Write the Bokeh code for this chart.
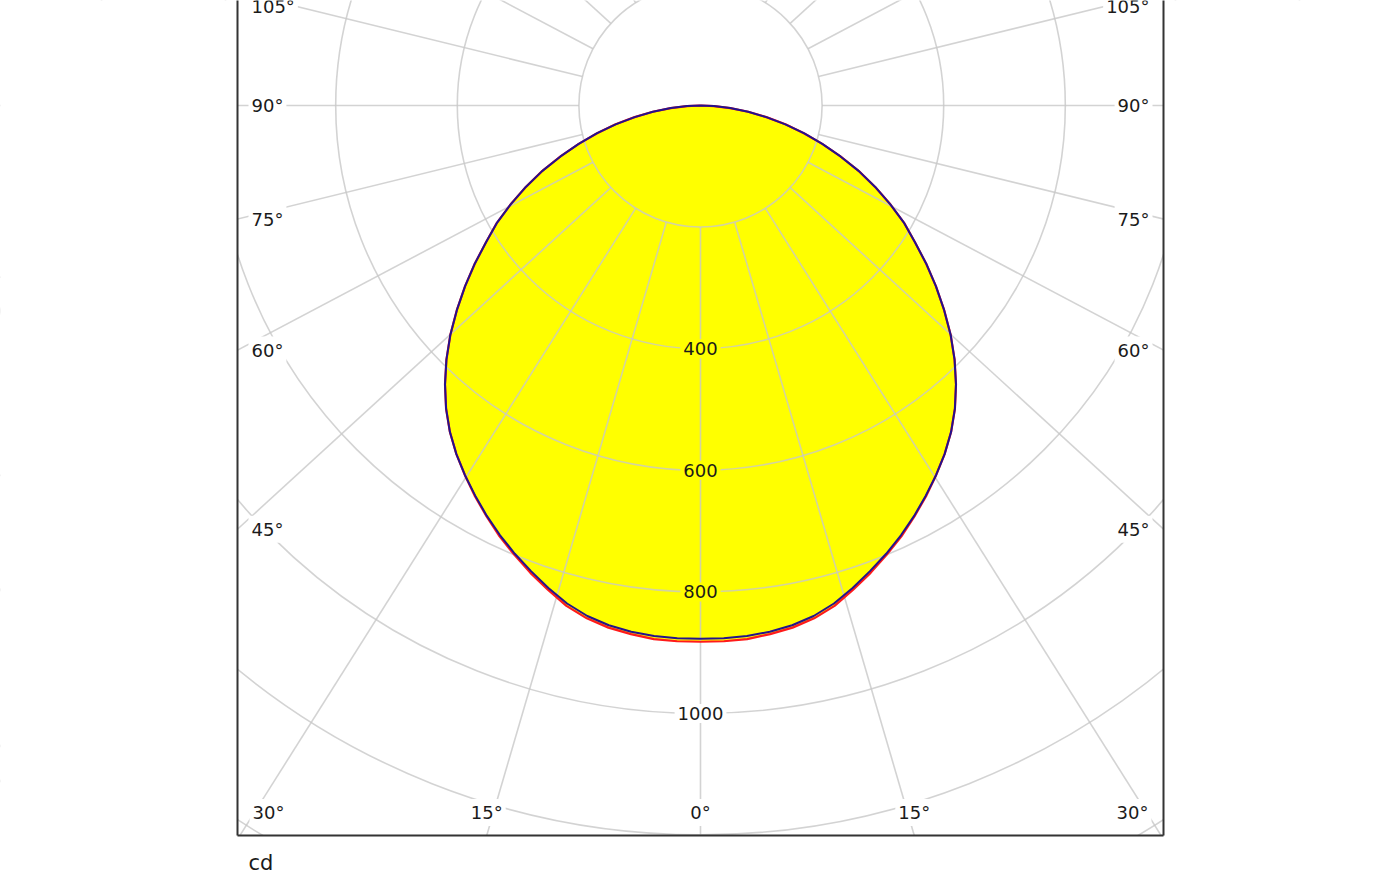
import numpy as np
from bokeh.plotting import figure
from bokeh.models import Range1d
from bokeh.core.properties import value
from bokeh.embed import file_html
from bokeh.resources import INLINE

# ---------------- data ----------------
angles = [0, 2.5, 5, 7.5, 10, 12.5, 15, 17.5, 20, 22.5, 25, 27.5, 30, 32.5, 35,
          37.5, 40, 42.5, 45, 47.5, 50, 52.5, 55, 57.5, 60, 62.5, 65, 67.5, 70,
          72.5, 75, 77.5, 80, 82.5, 85, 87.5, 90]
c0_c180 = [882, 882, 881, 877, 872, 864, 852, 835, 818, 800, 782, 762, 742, 721, 700,
           677, 651, 622, 591, 558, 523, 488, 453, 418, 387, 352, 317, 282, 245,
           210, 176, 143, 110, 79, 49, 22, 0]
c90_c270 = [877, 877, 876, 873, 868, 860, 848, 832, 815, 798, 780, 761, 741, 721, 700,
            677, 651, 622, 591, 558, 523, 488, 453, 418, 387, 352, 317, 282, 245,
            210, 176, 143, 110, 79, 49, 22, 0]
ring_values = [200, 400, 600, 800, 1000, 1200, 1400, 1600, 1800, 2000]
ring_labels = [400, 600, 800, 1000]
grid_angles = [0, 15, 30, 45, 60, 75, 90, 105, 120, 135, 150, 165, 180]
angle_labels = [0, 15, 30, 45, 60, 75, 90, 105]
unit_label = "cd"

# ---------------- layout ----------------
W, H = 1400, 875
S = 0.608            # pixels per cd
CX, CY = 700, 105    # pole position inside the canvas (px)
XF = 463 / S         # half width of the frame (cd units)
YB = 730 / S         # depth of the frame bottom below the pole
K = 0.915            # vertical squeeze of the angular grid
FONT = value("DejaVu Sans")
GRID = "#c8c8c8"

p = figure(width=W, height=H, output_backend="svg", toolbar_location=None,
           x_range=Range1d(-CX / S, (W - CX) / S),
           y_range=Range1d(-(H - CY) / S, CY / S),
           min_border=0, outline_line_color=None)
p.axis.visible = False
p.grid.visible = False
p.background_fill_color = "white"


def outline(vals):
    th = np.radians(angles)
    I = np.array(vals, float)
    xr, yr = I * np.sin(th), -I * np.cos(th)
    xs = np.concatenate([-xr[::-1], xr[1:]])
    ys = np.concatenate([yr[::-1], yr[1:]])
    return xs, ys


rx, ry = outline(c0_c180)
bx, by = outline(c90_c270)

# yellow fill
p.patch(rx, ry, fill_color="#ffff00", line_color=None)

# circles
p.circle(x=[0] * len(ring_values), y=[0] * len(ring_values),
         radius=ring_values, fill_color=None, line_color=GRID,
         line_alpha=0.8, line_width=1.6)

# radial lines (start on the innermost circle)
xs0, ys0, xs1, ys1 = [], [], [], []
r0 = ring_values[0]
for a in grid_angles:
    t = np.radians(a)
    for sgn in ((1,) if a in (0, 180) else (1, -1)):
        dx, dy = sgn * np.sin(t), -K * np.cos(t)
        n = np.hypot(dx, dy)
        dx, dy = dx / n, dy / n
        xs0.append(r0 * dx); ys0.append(r0 * dy)
        xs1.append(4000 * dx); ys1.append(4000 * dy)
p.segment(xs0, ys0, xs1, ys1, line_color=GRID, line_alpha=0.8, line_width=1.6)

# curves
p.line(rx, ry, line_color="#ff1a1a", line_width=2.2)
p.line(bx, by, line_color="#23138c", line_width=2)

# masks outside frame
BIG = 5000
p.quad(left=[-BIG, XF, -BIG], right=[-XF, BIG, BIG],
       bottom=[-BIG, -BIG, -BIG], top=[BIG, BIG, -YB],
       fill_color="white", line_color=None)

# frame
p.multi_line(xs=[[-XF, -XF], [XF, XF], [-XF, XF]],
             ys=[[-YB, BIG], [-YB, BIG], [-YB, -YB]],
             line_color="#333333", line_width=2)

# ring labels
lab_x, lab_y, lab_t, lab_bg = [], [], [], []
for r in ring_labels:
    lab_x.append(0); lab_y.append(-r); lab_t.append(str(r))
    lab_bg.append("#ffff00" if r < c0_c180[0] else "white")
p.text(x=lab_x, y=lab_y, text=lab_t, text_font=FONT, text_font_size="18px",
       text_color="#1a1a1a", text_align="center", text_baseline="middle",
       background_fill_color=lab_bg, padding=3)

# angle labels
ax_, ay_, at_, aa_ = [], [], [], []
for a in angle_labels:
    t = np.radians(a)
    txt = f"{a}°"
    xb = YB * np.tan(t) / K if a < 90 else None
    if xb is not None and xb <= XF:
        xl = min(xb, XF - 31 / S)
        yl = -YB + 23 / S
        for sgn in ((1,) if a == 0 else (-1, 1)):
            ax_.append(sgn * xl); ay_.append(yl); at_.append(txt); aa_.append("center")
    else:
        yl = 0.0 if a == 90 else -K * XF / np.tan(t)
        yl = min(yl, 99 / S)
        ax_.append(-XF + 11 / S); ay_.append(yl); at_.append(txt); aa_.append("left")
        ax_.append(XF - 11 / S); ay_.append(yl); at_.append(txt); aa_.append("right")
p.text(x=ax_, y=ay_, text=at_, text_align=aa_, text_font=FONT,
       text_font_size="18px", text_color="#1a1a1a", text_baseline="middle",
       background_fill_color="white", padding=3)

# unit label
p.text(x=[-XF + 11 / S], y=[-YB - 27 / S], text=[unit_label], text_font=FONT,
       text_font_size="21px", text_color="#1a1a1a", text_align="left",
       text_baseline="middle")

open("out.html", "w").write(file_html(p, INLINE))
